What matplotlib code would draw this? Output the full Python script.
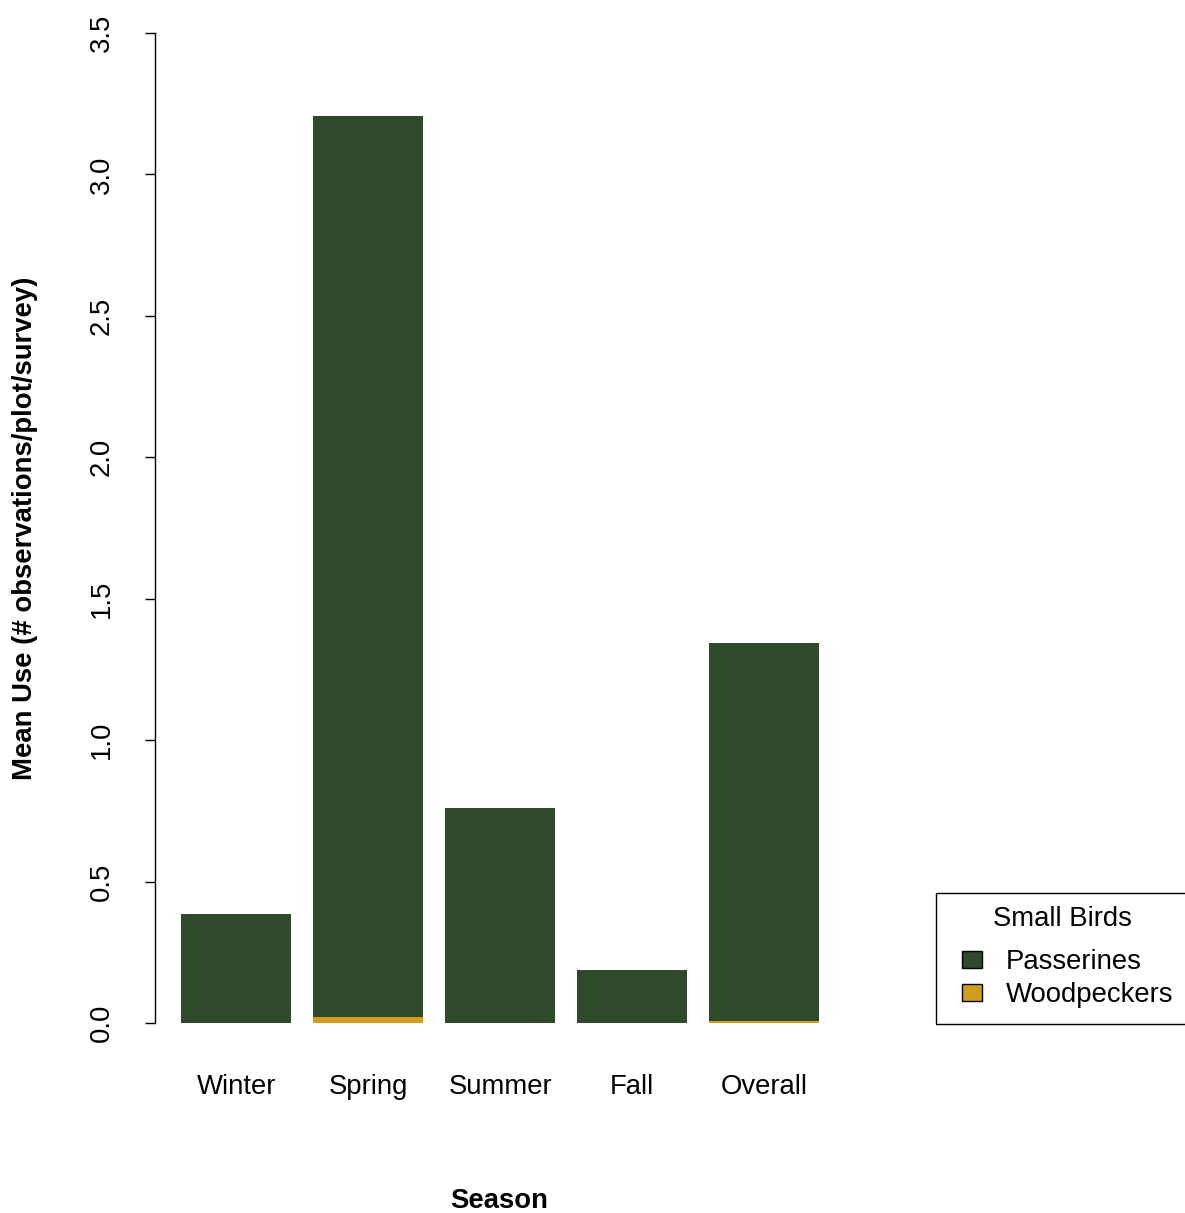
import matplotlib
matplotlib.use("Agg")
import matplotlib.pyplot as plt
from matplotlib.patches import Rectangle
import numpy as np

plt.rcParams['font.family'] = ['Liberation Sans', 'DejaVu Sans']

seasons = ["Winter", "Spring", "Summer", "Fall", "Overall"]
woodpeckers = [0.0, 0.02, 0.0, 0.0, 0.007]
passerines = [0.385, 3.187, 0.760, 0.187, 1.336]
y_ticks = [0.0, 0.5, 1.0, 1.5, 2.0, 2.5, 3.0, 3.5]
y_tick_labels = ["0.0", "0.5", "1.0", "1.5", "2.0", "2.5", "3.0", "3.5"]
legend_title = "Small Birds"
legend_labels = ["Passerines", "Woodpeckers"]

col_pass = "#2E4A2B"
col_wood = "#D19D1C"
fs = 19.8

W, H = 1185, 1213
fig = plt.figure(figsize=(W / 100, H / 100), dpi=100)
ax = fig.add_axes([155 / W, 150.4 / H, (867.4 - 155) / W, (1219.6 - 150.4) / H])

x = 0.2 + np.arange(len(seasons)) * 1.2 + 0.5
ax.bar(x, woodpeckers, width=1.0, color=col_wood, linewidth=0)
ax.bar(x, passerines, width=1.0, bottom=woodpeckers, color=col_pass, linewidth=0)

ax.set_xlim(-0.04, 6.44)
ax.set_ylim(-0.14, 3.64)

for s in ["top", "right", "bottom"]:
    ax.spines[s].set_visible(False)
ax.spines["left"].set_bounds(0, 3.5)
ax.spines["left"].set_linewidth(1.0)

ax.set_yticks(y_ticks)
ax.set_yticklabels(y_tick_labels, rotation=90, va="center", fontsize=fs)
ax.tick_params(axis="y", length=7.2, width=1.0, pad=22)
ax.set_xticks(x)
ax.set_xticklabels(seasons, fontsize=fs)
ax.tick_params(axis="x", length=0, pad=8)

# Helpers converting pixel positions to figure fractions
def fx(px):
    return px / W

def fy(py):
    return 1 - py / H

fig.text(fx(25), fy(528), "Mean Use (# observations/plot/survey)",
         rotation=90, ha="center", va="center", fontsize=fs, fontweight="bold")
fig.text(fx(499), fy(1201), "Season", ha="center", va="center",
         fontsize=fs, fontweight="bold")

# Legend box, running off the right edge of the figure
fig.patches.append(Rectangle((fx(936), fy(1024)), fx(1192) - fx(936), fy(893) - fy(1024),
                             transform=fig.transFigure, facecolor="white",
                             edgecolor="black", linewidth=1.0, clip_on=False))
fig.text(fx(1062), fy(919), legend_title, ha="center", va="center", fontsize=fs)
for i, (lab, col) in enumerate(zip(legend_labels, [col_pass, col_wood])):
    cy = 959 + 33 * i
    fig.patches.append(Rectangle((fx(962), fy(cy + 8.5)), fx(982) - fx(962), fy(cy - 8.5) - fy(cy + 8.5),
                                 transform=fig.transFigure, facecolor=col,
                                 edgecolor="black", linewidth=1.0))
    fig.text(fx(1006), fy(cy + 3), lab, ha="left", va="center", fontsize=fs)

fig.savefig("out.png", dpi=100)
